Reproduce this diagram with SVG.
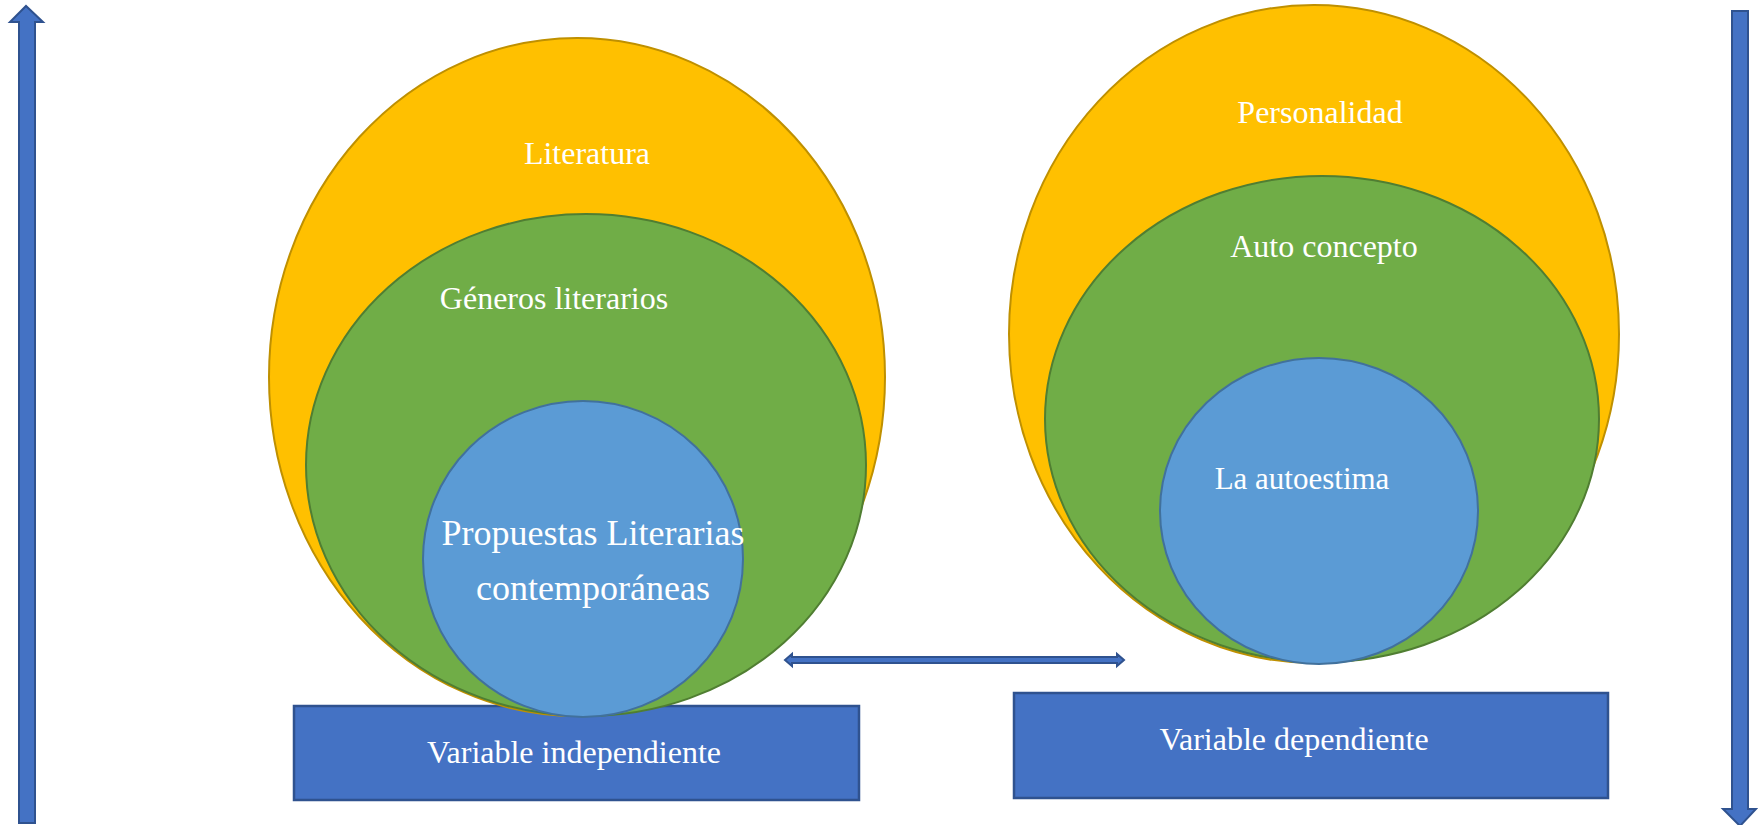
<svg xmlns="http://www.w3.org/2000/svg" width="1758" height="825" viewBox="0 0 1758 825">
<style>
.y{fill:#FFC000;stroke:#BF9000;stroke-width:2}
.g{fill:#70AD47;stroke:#507E32;stroke-width:2}
.b{fill:#5B9BD5;stroke:#41719C;stroke-width:2}
.r{fill:#4472C4;stroke:#2F528F;stroke-width:2.5}
.a{fill:#4472C4;stroke:#2F528F;stroke-width:2}
text{font-family:"Liberation Serif","Times New Roman",serif;font-size:32px;fill:#FFFFFF;text-anchor:middle}
</style>
<rect width="1758" height="825" fill="#FFFFFF"/>
<g id="connectors">
<path class="a" d="M19,823 L19,22 L10,22 L26,6 L43,22 L35,22 L35,823 Z"/>
<path class="a" d="M1732,11 L1748,11 L1748,809 L1756,809 L1740,826 L1723,809 L1732,809 Z"/>
<path class="a" d="M785,660 L792,654 L792,657 L1117,657 L1117,654 L1124,660 L1117,666 L1117,663 L792,663 L792,666 Z"/>
</g>
<g id="var-indep">
<rect class="r" x="294" y="706" width="565" height="94"/>
<text x="574" y="763">Variable independiente</text>
</g>
<g id="var-dep">
<rect class="r" x="1014" y="693" width="594" height="105"/>
<text x="1294" y="750">Variable dependiente</text>
</g>
<g id="literatura">
<ellipse class="y" cx="577" cy="377" rx="308" ry="339"/>
<text x="587" y="164">Literatura</text>
</g>
<g id="generos">
<ellipse class="g" cx="586" cy="465" rx="280" ry="251"/>
<text x="554" y="309">Géneros literarios</text>
</g>
<g id="propuestas">
<ellipse class="b" cx="583" cy="559" rx="160" ry="158"/>
<text x="593" y="545" style="font-size:36px">Propuestas Literarias</text>
<text x="593" y="600" style="font-size:36px">contemporáneas</text>
</g>
<g id="personalidad">
<ellipse class="y" cx="1314" cy="334" rx="305" ry="329"/>
<text x="1320" y="123">Personalidad</text>
</g>
<g id="autoconcepto">
<ellipse class="g" cx="1322" cy="419" rx="277" ry="243"/>
<text x="1324" y="257">Auto concepto</text>
</g>
<g id="autoestima">
<ellipse class="b" cx="1319" cy="511" rx="159" ry="153"/>
<text x="1302" y="489" style="font-size:31px">La autoestima</text>
</g>
</svg>
